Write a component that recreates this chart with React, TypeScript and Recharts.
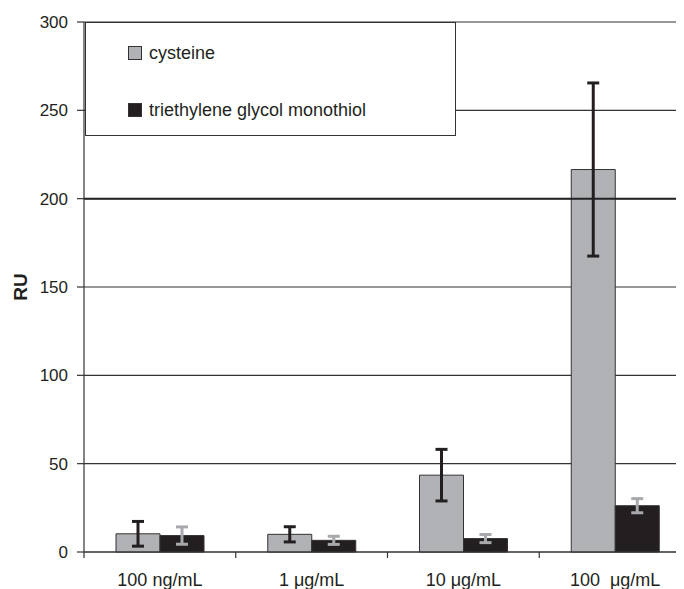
import React from "react";
import {
  BarChart,
  Bar,
  XAxis,
  YAxis,
  CartesianGrid,
  ErrorBar,
  ReferenceLine,
} from "recharts";

const categories = ["100 ng/mL", "1 μg/mL", "10 μg/mL", "100  μg/mL"];
const cysteine = [10.3, 10, 43.5, 216.5];
const cysteineErr = [7, 4.3, 14.6, 49];
const teg = [9.3, 6.6, 7.6, 26.2];
const tegErr = [4.9, 2.3, 2.3, 4];
const yTicks = [0, 50, 100, 150, 200, 250, 300];

const seriesNames = ["cysteine", "triethylene glycol monothiol"];
const seriesColors = ["#b1b2b6", "#231f20"];

const data = categories.map((name, i) => ({
  name,
  cysteine: cysteine[i],
  cysteineErr: cysteineErr[i],
  teg: teg[i],
  tegErr: tegErr[i],
}));

const CHART_W = 700;
const CHART_H = 581;
const MARGIN = { top: 14, right: 17, bottom: 7, left: 0 };
const Y_W = 76;
const HALF_BAND =
  (CHART_W - MARGIN.left - MARGIN.right - Y_W) / categories.length / 2;

const font = "'Liberation Sans', Arial, sans-serif";

// y here already sits 8px below the axis line (tickSize + tickMargin)
const XTick = (props: any) => {
  const { x, y, payload } = props;
  return (
    <g>
      <line x1={x - HALF_BAND} y1={y - 8} x2={x - HALF_BAND} y2={y - 2} stroke="#333" strokeWidth={1.2} />
      <text
        x={x}
        y={y + 26}
        textAnchor="middle"
        fill="#231f20"
        fontSize={18}
        fontFamily={font}
        style={{ whiteSpace: "pre" }}
      >
        {payload.value}
      </text>
    </g>
  );
};

// legend drawn as an overlay box on top of the plot, like the original
const LegendBox = () => (
  <div
    style={{
      position: "absolute",
      left: 77,
      top: 14,
      width: 371,
      height: 114,
      border: "1.5px solid #333",
      background: "#fff",
      boxSizing: "border-box",
      fontFamily: font,
      fontSize: 18,
      color: "#231f20",
    }}
  >
    {seriesNames.map((n, i) => (
      <div
        key={n}
        style={{
          position: "absolute",
          left: 42,
          top: i === 0 ? 18 : 75,
          display: "flex",
          alignItems: "center",
          height: 24,
        }}
      >
        <span
          style={{
            width: 12,
            height: 12,
            background: seriesColors[i],
            border: "1px solid #333",
            marginRight: 7,
            display: "inline-block",
          }}
        />
        <span>{n}</span>
      </div>
    ))}
  </div>
);

export default function App() {
  return (
    <div style={{ width: 676, height: CHART_H, overflow: "hidden", position: "relative" }}>
      <BarChart
        width={CHART_W}
        height={CHART_H}
        data={data}
        margin={MARGIN}
        barGap={0}
        barSize={44}
      >
        <CartesianGrid vertical={false} stroke="#333" strokeWidth={1.2} />
        <ReferenceLine y={200} stroke="#222" strokeWidth={2} />
        <XAxis
          dataKey="name"
          height={30}
          axisLine={{ stroke: "#333", strokeWidth: 1.2 }}
          tickLine={false}
          tick={<XTick />}
          interval={0}
        />
        <YAxis
          width={Y_W}
          domain={[0, 300]}
          ticks={yTicks}
          interval={0}
          axisLine={{ stroke: "#333", strokeWidth: 1.2 }}
          tickLine={{ stroke: "#333", strokeWidth: 1.2 }}
          tickSize={7}
          tickMargin={9}
          tick={{ fill: "#231f20", fontSize: 17, fontFamily: font }}
          label={{
            value: "RU",
            angle: -90,
            position: "insideLeft",
            offset: 12,
            style: { textAnchor: "middle", fontWeight: "bold", fontSize: 19, fill: "#231f20", fontFamily: font },
          }}
        />
        <Bar
          dataKey="cysteine"
          name={seriesNames[0]}
          fill={seriesColors[0]}
          stroke="#333"
          strokeWidth={1}
          isAnimationActive={false}
        >
          <ErrorBar dataKey="cysteineErr" width={6} stroke="#231f20" strokeWidth={3} />
        </Bar>
        <Bar
          dataKey="teg"
          name={seriesNames[1]}
          fill={seriesColors[1]}
          stroke="#333"
          strokeWidth={1}
          isAnimationActive={false}
        >
          <ErrorBar dataKey="tegErr" width={6} stroke="#a7a9ac" strokeWidth={3} />
        </Bar>
      </BarChart>
      <LegendBox />
    </div>
  );
}
